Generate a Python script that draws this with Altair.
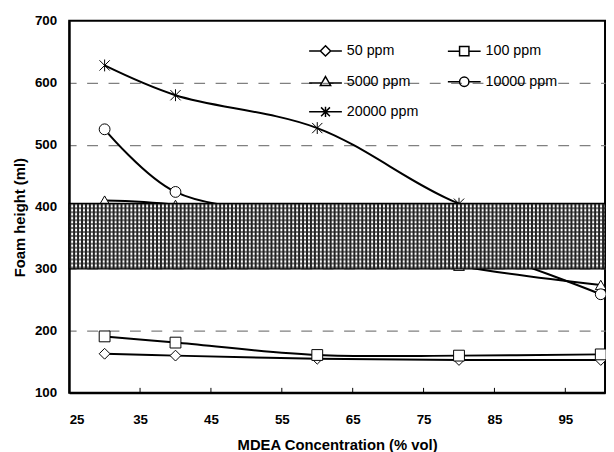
import altair as alt
import pandas as pd

# ---------------- data ----------------
conc = [30, 40, 60, 80, 100]
series_names = ["50 ppm", "100 ppm", "5000 ppm", "10000 ppm", "20000 ppm"]
ppm50 = [163, 160, 155, 153, 153]
ppm100 = [191, 181, 161, 160, 162]
ppm5000 = [410, 403, 360, 305, 274]
ppm10000 = [525, 424, 385, 340, 259]
ppm20000 = [628, 580, 527, 405, 340]
x_ticks = [25, 35, 45, 55, 65, 75, 85, 95]
y_ticks = [100, 200, 300, 400, 500, 600, 700]
x_domain = [25, 100.6]
y_domain = [100, 700]
band_low = [300]
band_high = [405.56]

# ---------------- layout / style ----------------
W, H = 543, 377
FONT = "'Liberation Sans', Arial, sans-serif"

rows = []
for name, vals in zip(series_names, [ppm50, ppm100, ppm5000, ppm10000, ppm20000]):
    for c, v in zip(conc, vals):
        rows.append({"conc": c, "foam": v, "series": name, "legend_series": name})
df = pd.DataFrame(rows)

band_df = pd.DataFrame({"x1": [x_domain[0]], "x2": [x_domain[1]],
                        "y1": band_low, "y2": band_high})
band_df["xm"] = (band_df["x1"] + band_df["x2"]) / 2
band_df["ym"] = (band_df["y1"] + band_df["y2"]) / 2
tick_df = pd.DataFrame({"t": x_ticks[1:]})

xscale = alt.Scale(domain=x_domain, nice=False, zero=False)
yscale = alt.Scale(domain=y_domain, nice=False, zero=False)

x_axis = alt.Axis(values=x_ticks, ticks=False, grid=False, labelPadding=20,
                  title="MDEA Concentration (% vol)", titleX=W / 2, titleY=57,
                  titleBaseline="alphabetic", titleAlign="center")
y_axis = alt.Axis(values=y_ticks, ticks=False, grid=True, labelPadding=12.7,
                  title="Foam height (ml)", titleAngle=270, titleX=-45, titleY=199,
                  titleBaseline="alphabetic", titleAlign="center",
                  gridColor="#808080", gridWidth=1.3, gridDash=[11, 10.7],
                  gridDashOffset=4,
                  gridOpacity={"condition": {"test": "datum.value === 700 || datum.value === 100",
                                             "value": 0}, "value": 1})


def xenc(field):
    return alt.X(field, scale=xscale, axis=x_axis)


def yenc(field):
    return alt.Y(field, scale=yscale, axis=y_axis)


lines = alt.Chart(df).mark_line(interpolate="catmull-rom", color="black",
                                strokeWidth=2).encode(x=xenc("conc:Q"), y=yenc("foam:Q"),
                                                      detail="series:N")

star = "M0,-1.1L0,1.1M-0.95,-0.95L0.95,0.95M-0.95,0.95L0.95,-0.95"
marker_shapes = ["diamond", "square", "triangle-up", "circle", star]
points = alt.Chart(df).mark_point(filled=True, fill="white", stroke="black",
                                  strokeWidth=1, size=120, opacity=1).encode(
    x=xenc("conc:Q"), y=yenc("foam:Q"),
    shape=alt.Shape("series:N", scale=alt.Scale(domain=series_names, range=marker_shapes),
                    legend=None))

legend_shapes = [
    "M-3.5,0L-1.1,0M1.1,0L3.5,0M0,-1.1L1.1,0L0,1.1L-1.1,0Z",
    "M-3.5,0L-1,0M1,0L3.5,0M-1,-1L1,-1L1,1L-1,1Z",
    "M-3.5,0.25L-0.78,0.25M0.78,0.25L3.5,0.25M0,-1.1L1.1,0.8L-1.1,0.8Z",
    "M-3.5,0L-1,0M1,0L3.5,0M1,0A1,1,0,1,1,-1,0A1,1,0,1,1,1,0Z",
    "M-3.5,0L3.5,0M0,-1.1L0,1.1M-0.95,-0.95L0.95,0.95M-0.95,0.95L0.95,-0.95",
]
legend_layer = alt.Chart(df).transform_filter("false").mark_point(
    color="black", strokeWidth=1.5, size=90, opacity=1).encode(
    x=xenc("conc:Q"), y=yenc("foam:Q"),
    shape=alt.Shape("legend_series:N",
                    scale=alt.Scale(domain=series_names, range=legend_shapes),
                    legend=alt.Legend(title=None, orient="none", legendX=252.5, legendY=23,
                                      direction="horizontal", columns=2,
                                      columnPadding=25.6, rowPadding=14.5,
                                      symbolSize=90, symbolStrokeWidth=1.5,
                                      symbolOpacity=1,
                                      labelFont=FONT, labelFontSize=14.5,
                                      labelFontWeight="normal", labelColor="black",
                                      labelOffset=14.3)))

# hatched band: a fine mesh from two dashed, very wide strokes
band_h_px = (band_high[0] - band_low[0]) / (y_domain[1] - y_domain[0]) * H
band_enc = dict(x=xenc("x1:Q"), x2="x2:Q", y=yenc("y1:Q"), y2="y2:Q")
band_base = alt.Chart(band_df).mark_rect(fill="white").encode(**band_enc)
band_rows = alt.Chart(band_df).mark_rule(
    color="#777777", strokeWidth=W, strokeDash=[2, 2], strokeCap="butt").encode(
    x=xenc("xm:Q"), y=yenc("y2:Q"), y2="y1:Q")
band_cols = alt.Chart(band_df).mark_rule(
    color="#222222", strokeWidth=band_h_px, strokeDash=[2, 2], strokeCap="butt").encode(
    x=xenc("x1:Q"), x2="x2:Q", y=yenc("ym:Q"))
band_edge = alt.Chart(band_df).mark_rect(fillOpacity=0, stroke="black",
                                         strokeWidth=1.2).encode(**band_enc)

ticks = alt.Chart(tick_df).mark_rule(color="black", strokeWidth=1).encode(
    x=xenc("t:Q"), y=alt.value(H - 5), y2=alt.value(H))

chart = alt.layer(lines, points, legend_layer, band_base, band_rows, band_cols, band_edge,
                  ticks).resolve_scale(
    shape="independent"
).properties(
    width=W, height=H,
    autosize=alt.AutoSizeParams(type="none"),
    padding={"left": 62, "top": 10, "right": 1, "bottom": 57},
    background="white",
).configure_view(
    stroke="black", strokeWidth=2
).configure_axis(
    domainColor="black", domainWidth=2,
    labelFont=FONT, labelFontSize=13.5, labelFontWeight="bold", labelColor="black",
    titleFont=FONT, titleFontSize=15, titleFontWeight="bold", titleColor="black",
)

chart.save("out.html", embed_options={"renderer": "svg", "actions": False})
